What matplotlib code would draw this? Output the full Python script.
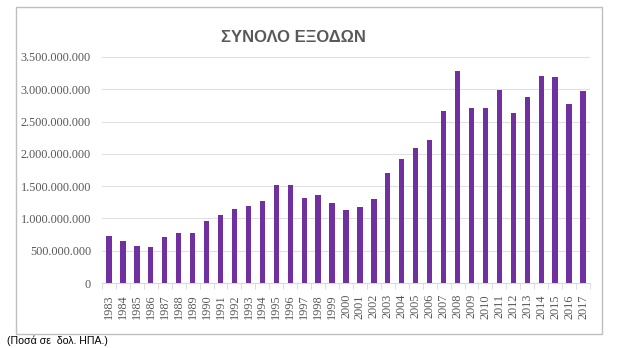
import matplotlib.pyplot as plt
from matplotlib.patches import Rectangle
from matplotlib.ticker import FuncFormatter, MultipleLocator

years = list(range(1983, 2018))
expenses = [727e6, 655e6, 573e6, 562e6, 707e6, 779e6, 779e6, 960e6, 1053e6, 1141e6,
            1197e6, 1274e6, 1517e6, 1517e6, 1311e6, 1362e6, 1238e6, 1130e6, 1176e6, 1300e6,
            1698e6, 1924e6, 2094e6, 2218e6, 2663e6, 3282e6, 2709e6, 2709e6, 2988e6, 2632e6,
            2879e6, 3209e6, 3189e6, 2771e6, 2977e6]

txt = '#595959'
fig = plt.figure(figsize=(6.18, 3.48), dpi=100)
ax = fig.add_axes([102/618, 1 - 283/348, 488/618, 226/348])

x = range(len(years))
ax.bar(x, expenses, width=0.38, color='#7030A0', zorder=3)

ax.set_xlim(-0.5, len(years) - 0.5)
ax.set_ylim(0, 3.5e9)
ax.yaxis.set_major_locator(MultipleLocator(5e8))
ax.yaxis.set_major_formatter(FuncFormatter(lambda v, p: f'{int(v):,}'.replace(',', '.')))
ax.grid(axis='y', color='#E0E0E0', linewidth=0.8, zorder=0)

ax.set_xticks(list(x))
ax.set_xticklabels([str(y) for y in years], rotation=90)
ax.set_xticks([i - 0.5 for i in range(len(years) + 1)], minor=True)
ax.tick_params(axis='x', which='major', length=0, pad=8)
ax.tick_params(axis='x', which='minor', length=4, color='#D9D9D9')
ax.tick_params(axis='y', length=0, pad=8)
for lbl in ax.get_xticklabels() + ax.get_yticklabels():
    lbl.set_fontfamily('Liberation Serif')
    lbl.set_fontsize(8.8)
    lbl.set_color(txt)

for s in ['top', 'right', 'left']:
    ax.spines[s].set_visible(False)
ax.spines['bottom'].set_color('#D9D9D9')

fig.text(293/618, 1 - 37/348, 'ΣΥΝΟΛΟ ΕΞΟΔΩΝ', ha='center', va='center',
         fontsize=12, fontweight='bold', color=txt, family='Liberation Sans')

# chart frame
fig.patches.append(Rectangle((16/618, 1 - 334/348), 586/618, 327/348,
                             transform=fig.transFigure, fill=False,
                             edgecolor='#BFBFBF', linewidth=1))
fig.text(7/618, 1 - 341/348, '(Ποσά σε  δολ. ΗΠΑ.)', ha='left', va='center',
         fontsize=7.6, color='black', family='Liberation Sans')

fig.savefig('out.png', dpi=100)
